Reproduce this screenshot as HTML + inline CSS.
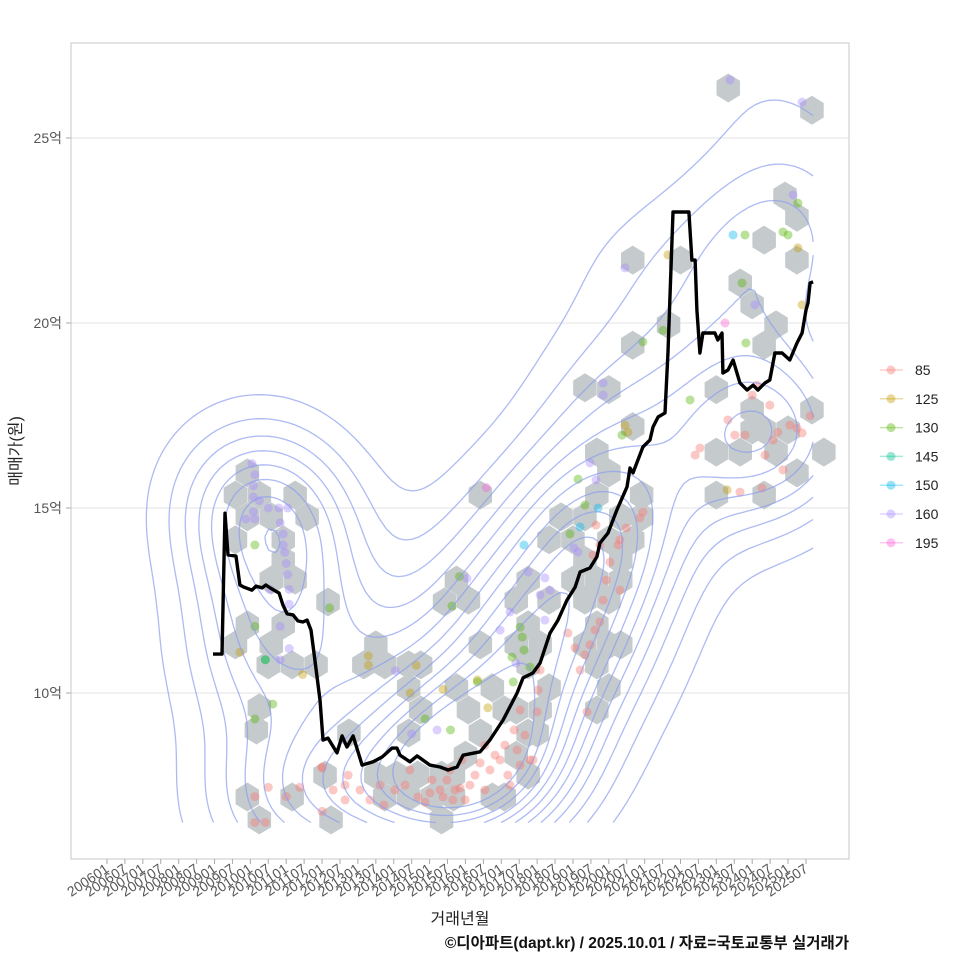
<!DOCTYPE html>
<html><head><meta charset="utf-8">
<style>
body{margin:0;background:#fff;}
svg{display:block;font-family:"Liberation Sans","Noto Sans CJK KR",sans-serif;}
</style></head>
<body>
<svg id="chart" width="960" height="960" viewBox="0 0 960 960" xmlns="http://www.w3.org/2000/svg">
<rect x="0" y="0" width="960" height="960" fill="#fff"/>
<g id="grid"></g>
<g id="hexes"></g>
<g id="points"></g>
<g id="contours"></g>
<g id="line"></g>
<rect x="71" y="43" width="778" height="816" fill="none" stroke="#c8c8c8" stroke-width="1"/>
<g id="yaxis"></g>
<g id="xaxis"></g>
<text x="0" y="0" transform="translate(21,451) rotate(-90)" text-anchor="middle" font-size="16" fill="#222">매매가(원)</text>
<text x="460" y="924" text-anchor="middle" font-size="16" fill="#222">거래년월</text>
<text x="849" y="948" text-anchor="end" font-size="15.5" font-weight="bold" fill="#111">©디아파트(dapt.kr) / 2025.10.01 / 자료=국토교통부 실거래가</text>
<g id="legend"></g>
</svg>
<script>
// ---- data ----
const yTicks = [10, 15, 20, 25];
const yTickLabels = ["10억", "15억", "20억", "25억"];
const xTickLabels = [];
for (let yr = 2006; yr <= 2025; yr++) { xTickLabels.push(yr + "01"); xTickLabels.push(yr + "07"); }
const legendTypes = ["85", "125", "130", "145", "150", "160", "195"];
const typeColors = ["#F8766D", "#C49A00", "#53B400", "#00C094", "#00B6EB", "#A58AFF", "#FB61D7"];

// median line: months since 2006-01, price (억)
const lineMonths = [35.5,38.5,39.5,40.5,43.2,44.5,45.9,48.5,49.9,51.9,53.2,54.6,57.6,58.9,60.3,62.3,63.9,65.6,67.0,68.3,69.6,71.3,72.3,74.0,77.0,78.7,80.3,82.4,85.4,89.1,92.1,95.4,97.1,98.1,101.4,103.8,108.1,111.5,114.2,117.2,119.2,124.9,128.2,132.6,137.3,139.3,142.6,145.0,148.3,151.0,154.0,156.7,158.4,161.7,164.0,165.0,167.7,170.7,174.1,175.1,176.1,179.4,181.8,182.8,184.5,186.8,187.8,189.5,194.8,195.8,196.9,197.5,198.5,199.5,203.5,204.5,205.9,206.2,207.9,209.6,211.9,214.3,216.3,217.9,220.3,221.9,223.6,226.0,228.6,231.0,232.7,234.0,234.7,235.4,236.4];
const linePrices = [11.05,11.05,14.86,13.73,13.70,12.92,12.86,12.78,12.89,12.84,12.92,12.84,12.70,12.38,12.14,12.11,11.95,11.92,11.97,11.70,10.89,9.81,8.73,8.78,8.38,8.84,8.54,8.84,8.05,8.14,8.27,8.51,8.51,8.32,8.14,8.30,8.05,8.00,7.92,8.00,8.32,8.41,8.73,9.27,10.00,10.41,10.54,10.81,11.62,11.97,12.51,12.86,13.27,13.38,13.68,14.05,14.32,14.95,15.57,16.08,15.95,16.65,16.84,17.19,17.46,17.57,19.22,23.00,23.00,21.70,21.70,20.35,19.19,19.73,19.73,19.54,19.73,18.65,18.73,19.00,18.38,18.19,18.32,18.19,18.38,18.46,19.19,19.19,19.00,19.46,19.73,20.35,20.54,21.08,21.11];

// hexbin centers
const hexMonths = [47,43,51,63,47,55,67,43,59,59,55,63,47,43,59,55,54,62,70,74,51,50,47,51,62,73,75,81,90,86,93,101,105,101,105,101,90,93,97,104,101,112,109,112,116,116,120,125,121,117,125,129,137,133,141,137,141,133,129,117,121,113,125,137,141,141,137,141,145,148,148,145,144,148,152,156,160,164,164,160,156,164,160,168,164,160,164,168,172,168,164,172,172,168,176,179,176,168,164,176,176,168,160,172,179,188,192,208,236,212,216,220,227,231,224,231,220,216,204,216,204,212,220,224,220,231,236,228,240,204];
const hexPrices = [15.95,15.35,15.35,15.35,14.76,14.76,14.76,14.14,14.14,13.59,13.05,13.05,11.84,11.3,11.84,11.3,10.76,10.76,10.76,12.46,9.6,9.0,7.19,6.57,7.19,7.78,6.57,8.92,11.3,10.76,10.76,10.76,10.76,10.14,9.54,8.92,7.78,7.19,7.78,7.78,7.19,7.78,7.19,6.57,7.19,7.78,8.32,8.92,9.54,10.14,11.3,10.14,9.54,9.54,8.92,8.32,7.78,7.19,7.19,13.05,12.51,12.46,15.35,12.51,13.05,11.84,11.3,10.76,11.3,12.51,10.14,9.54,8.92,14.14,14.76,14.14,14.76,15.35,16.51,13.59,13.05,13.05,12.51,12.51,11.84,11.3,10.76,11.3,11.3,10.14,9.54,13.59,14.76,14.14,14.14,15.35,17.2,15.95,16.51,21.7,19.4,18.2,18.25,13.05,14.76,19.95,21.7,26.35,25.75,21.08,20.49,22.24,23.43,22.86,19.95,21.7,19.4,17.65,18.2,17.11,16.51,16.51,17.11,16.51,15.35,15.95,17.65,17.11,16.51,15.35];

// transactions: month, price, type index
const ptMonths = [48.5,49.5,49,49,49,49.5,54,57.5,60.5,58,59,59,59.5,60,60.5,61,58,54.5,61,61,58,46.5,51,49.5,49.5,53,55.5,49.5,74.5,44.5,65.5,53,49.5,54,49.5,53,60,64.5,72,72,87.5,87.5,103.5,101.5,112.5,124,127.5,118,115.5,106.5,115,124,136,120.5,102,110.5,96.5,127,
72.0,75.7,79.7,80.7,79.7,84.7,88.0,91.4,92.7,96.4,99.8,101.4,104.1,106.5,108.1,108.8,111.5,112.5,113.8,114.8,115.8,116.5,118.2,118.8,119.9,121.5,123.2,124.9,126.5,126.5,128.2,129.9,131.6,133.2,134.2,134.9,136.3,137.3,138.3,139.9,141.6,144.0,144.3,145.0,142.6,138.3,
154.3,156.7,158.4,160.0,161.7,163.4,165.0,160.7,166.1,167.1,168.4,171.1,171.7,173.8,178.4,179.4,165.0,162.7,163.7,171.7,
207.9,210.2,213.6,216.0,217.6,220.3,221.9,223.0,224.6,226.3,228.6,231.0,232.7,235.4,211.9,219.3,198.5,196.9,
187.8,173.4,174.4,172.4,179.4,186.1,195.2,212.6,213.9,213.6,226.3,228.0,231.3,231.3,232.7,209.6,216.9,208.6,232.7,229.7,173.4,166.1,166.1,206.9,207.6,164.4,158.4,139.6,160.0,155,
141,146.6,148.3,145.0,146.6,156.3,157.7,161.7,163.7,134.9,136.9,131.6,138.3,139.0,139.6,135.6,141.6,157.7];
const ptPrices = [16.2,15.9,15.6,15.3,14.9,14.7,15.0,15.0,15.0,14.6,14.3,14.0,13.8,13.5,13.2,12.8,11.8,12.8,12.4,11.2,10.9,14.7,15.2,14.0,11.8,10.9,9.7,9.3,12.3,11.1,10.5,10.9,7.2,7.45,6.5,6.5,7.2,7.45,8.0,6.8,11.0,10.75,10.75,10.0,10.1,10.35,9.6,13.15,12.35,9.3,9.0,10.3,10.3,13.1,8.9,9.0,10.6,15.55,
7.97,7.38,7.51,7.78,7.11,7.38,7.11,7.51,6.97,7.38,7.51,7.92,7.19,7.05,7.30,7.65,7.38,7.19,7.65,7.92,7.11,7.38,7.43,8.19,7.11,7.51,7.78,8.11,7.38,8.59,7.92,8.32,8.19,8.59,7.78,7.51,9.0,8.46,8.05,8.86,8.19,9.49,10.08,10.62,8.19,9.54,
11.62,11.22,10.62,11.03,11.30,11.70,11.92,9.49,12.51,13.05,13.54,14.0,14.14,14.46,14.73,14.89,14.0,13.73,14.54,12.78,
17.38,16.97,16.97,18.05,18.32,16.43,17.78,16.84,17.05,16.03,17.24,17.16,17.03,17.49,15.43,15.54,16.62,16.43,
21.84,17.24,17.05,16.97,19.49,19.8,17.92,21.08,19.46,22.38,22.46,22.38,23.24,22.03,20.49,22.38,20.49,26.57,25.97,23.46,21.49,18.38,18.05,20.0,15.49,15.0,14.49,14.0,15.08,14.3,
13.27,13.11,12.78,12.65,11.97,13.92,13.81,16.22,15.76,12.19,10.81,11.7,11.78,11.51,11.16,10.97,10.70,15.78];
const ptTypes = [5,5,5,5,5,5,5,5,5,5,5,5,5,5,5,5,5,5,5,5,5,5,5,2,2,2,2,2,2,1,1,3,0,0,0,0,0,0,0,0,1,1,1,1,1,1,1,2,2,2,2,2,2,5,5,5,5,6,
0,0,0,0,0,0,0,0,0,0,0,0,0,0,0,0,0,0,0,0,0,0,0,0,0,0,0,0,0,0,0,0,0,0,0,0,0,0,0,0,0,0,0,0,0,0,
0,0,0,0,0,0,0,0,0,0,0,0,0,0,0,0,0,0,0,0,
0,0,0,0,0,0,0,0,0,0,0,0,0,0,0,0,0,0,
1,1,1,2,2,2,2,2,2,2,2,2,2,1,1,4,5,5,5,5,5,5,5,6,1,4,4,4,2,2,
5,5,5,5,5,5,5,5,5,5,5,5,2,2,2,2,2,2];

// ---- scales ----
const X0 = 107, XPM = 2.987;
const Y25 = 138, YPU = 37;
function sx(m){ return X0 + m * XPM; }
function sy(p){ return Y25 + (25 - p) * YPU; }
const NS = "http://www.w3.org/2000/svg";
function mk(tag, attrs, parent){ const e = document.createElementNS(NS, tag); for (const k in attrs) e.setAttribute(k, attrs[k]); parent.appendChild(e); return e; }

const gG = document.getElementById('grid'), gY = document.getElementById('yaxis');
yTicks.forEach((v, i) => {
  const y = sy(v);
  const gl = mk('line', {x1:71, x2:849, y1:y, y2:y, stroke:'#e3e3e3', 'stroke-width':1}, gG);
  
  
  const tk = mk('line', {x1:66, x2:71, y1:y, y2:y, stroke:'#aaa', 'stroke-width':1}, gY);
  
  
  const t = mk('text', {x:62, y:y+5, 'text-anchor':'end', 'font-size':14, fill:'#555'}, gY);
  t.textContent = yTickLabels[i];
  
  
});

const gX = document.getElementById('xaxis');
xTickLabels.forEach((lab, i) => {
  const x = sx(i * 6);
  const tk = mk('line', {x1:x, x2:x, y1:859, y2:864, stroke:'#aaa', 'stroke-width':1}, gX);
  
  
  const t = mk('text', {x:0, y:0, transform:`translate(${x+3},${871}) rotate(-34)`, 'text-anchor':'end', 'font-size':14, fill:'#555'}, gX);
  t.textContent = lab;
  
  
});

const gH = document.getElementById('hexes');
const hdx = 23.5, hry = 14.5;
hexMonths.forEach((m, i) => {
  const cx = sx(m), cy = sy(hexPrices[i]);
  const pts = [[0,-hry],[hdx/2,-hry/2],[hdx/2,hry/2],[0,hry],[-hdx/2,hry/2],[-hdx/2,-hry/2]].map(p => (cx+p[0]).toFixed(1)+','+(cy+p[1]).toFixed(1)).join(' ');
  const h = mk('polygon', {points:pts, fill:'#c5cacd'}, gH);
  
  
});

const gP = document.getElementById('points');
ptMonths.forEach((m, i) => {
  const c = mk('circle', {cx:sx(m), cy:sy(ptPrices[i]), r:4.5, fill:typeColors[ptTypes[i]], 'fill-opacity':0.4}, gP);
  
  
});

(function(){
  const n = ptMonths.length;
  function bw(a){
    const s = a.slice().sort((p,q)=>p-q);
    const mean = a.reduce((p,q)=>p+q,0)/n;
    const sd = Math.sqrt(a.reduce((p,q)=>p+(q-mean)*(q-mean),0)/(n-1));
    const q = f => { const h=(n-1)*f, lo=Math.floor(h); return s[lo]+(h-lo)*((s[lo+1]||s[lo])-s[lo]); };
    const iqr = (q(0.75)-q(0.25))/1.34;
    return 1.06*Math.min(sd, iqr)*Math.pow(n,-0.2);
  }
  const hx = bw(ptMonths)*0.95, hy = bw(ptPrices)*0.9;
  const N = 110, xmin = 0, xmax = 236.4, ymin = 6.5, ymax = 26.57;
  const gx = [], gy = [];
  for (let i=0;i<N;i++){ gx.push(xmin+(xmax-xmin)*i/(N-1)); gy.push(ymin+(ymax-ymin)*i/(N-1)); }
  const z = [];
  let zmax = 0;
  for (let j=0;j<N;j++){ z.push([]); for (let i=0;i<N;i++){
    let s = 0;
    for (let k=0;k<n;k++){ const u=(gx[i]-ptMonths[k])/hx, v=(gy[j]-ptPrices[k])/hy; s += Math.exp(-0.5*(u*u+v*v)); }
    s /= (n*2*Math.PI*hx*hy);
    z[j].push(s); if (s>zmax) zmax=s;
  }}
  const step = zmax/13;
  const levels = []; for (let k=1; k<13; k++) levels.push(k*step*0.85);
  const gC = document.getElementById('contours');
  levels.forEach(L => {
    let d = '';
    for (let j=0;j<N-1;j++) for (let i=0;i<N-1;i++){
      const c = [[i,j],[i+1,j],[i+1,j+1],[i,j+1]];
      const vals = c.map(p=>z[p[1]][p[0]]);
      const cr = [];
      for (let e=0;e<4;e++){
        const a=vals[e], b=vals[(e+1)%4];
        if ((a<L)!==(b<L)){
          const t=(L-a)/(b-a), pa=c[e], pb=c[(e+1)%4];
          const mx = gx[pa[0]]+t*(gx[pb[0]]-gx[pa[0]]), my = gy[pa[1]]+t*(gy[pb[1]]-gy[pa[1]]);
          cr.push([sx(mx), sy(my)]);
        }
      }
      for (let q=0;q+1<cr.length;q+=2) d += `M${cr[q][0].toFixed(1)},${cr[q][1].toFixed(1)}L${cr[q+1][0].toFixed(1)},${cr[q+1][1].toFixed(1)}`;
    }
    const p = mk('path', {d:d, fill:'none', stroke:'#8a9df0', 'stroke-opacity':0.7, 'stroke-width':1.3}, gC);
    
    
  });
})();

const gL = document.getElementById('line');
const lp = mk('polyline', {points: lineMonths.map((m,i)=>sx(m).toFixed(1)+','+sy(linePrices[i]).toFixed(1)).join(' '), fill:'none', stroke:'#000', 'stroke-width':3.4, 'stroke-linejoin':'round'}, gL);



const gLg = document.getElementById('legend');
legendTypes.forEach((t, i) => {
  const y = 370 + i * 28.8;
  const g = mk('g', {}, gLg);
  
  
  mk('line', {x1:880, x2:903, y1:y, y2:y, stroke:typeColors[i], 'stroke-opacity':0.35, 'stroke-width':1.5}, g);
  mk('circle', {cx:891, cy:y, r:4.5, fill:typeColors[i], 'fill-opacity':0.4}, g);
  const tx = mk('text', {x:915, y:y+5, 'font-size':14, fill:'#222'}, g);
  tx.textContent = t;
});
</script>
</body></html>
